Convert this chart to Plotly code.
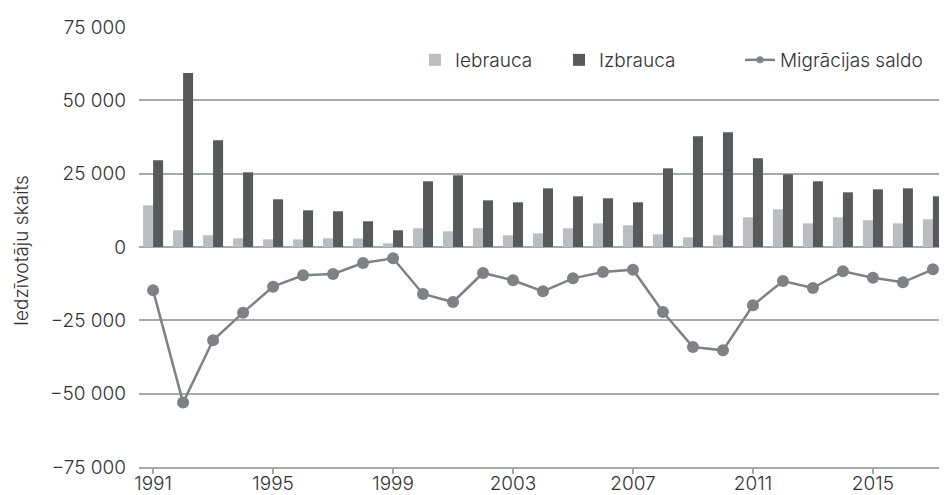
import plotly.graph_objects as go

years = list(range(1991, 2018))
iebrauca = [14200, 5700, 4000, 2960, 2600, 2600, 2960, 2900, 1250, 6380, 5350, 6400,
            3980, 4660, 6370, 8070, 7390, 4320, 3300, 3980, 10120, 12840, 8070, 10120,
            9100, 8070, 9440]
izbrauca = [29560, 59300, 36380, 25470, 16260, 12500, 12170, 8760, 5700, 22400, 24450, 15900,
            15240, 20000, 17280, 16600, 15240, 26820, 37730, 39090, 30230, 24770, 22390, 18640,
            19660, 20000, 17280]
saldo = [-14770, -53050, -31800, -22380, -13520, -9660, -9200, -5450, -3860, -16020, -18750,
         -8860, -11360, -15110, -10680, -8520, -7730, -22150, -34090, -35220, -19880, -11590,
         -13980, -8290, -10450, -12040, -7610]

y_ticks = [-75000, -50000, -25000, 0, 25000, 50000, 75000]
y_ticktext = ["\u221275 000", "\u221250 000", "\u221225 000", "0", "25 000", "50 000", "75 000"]
x_ticks = [1991, 1995, 1999, 2003, 2007, 2011, 2015]

FONT = "Inter"
TXT = "#333333"
FS = 19
# the page body adds an 8px offset, so the figure is sized/margined accordingly
W, H = 939, 487
ML, MR, MT, MB = 131, 0, 19, 28
PW = W - ML - MR
PH = H - MT - MB

fig = go.Figure()
fig.add_trace(go.Bar(x=years, y=iebrauca, name="Iebrauca", marker_color="#BCBDC0",
                     marker_line_width=0, legendwidth=99))
fig.add_trace(go.Bar(x=years, y=izbrauca, name="Izbrauca", marker_color="#58595B",
                     marker_line_width=0, legendwidth=136))
fig.add_trace(go.Scatter(x=years, y=saldo, name="Migrācijas saldo", mode="lines+markers",
                         line=dict(color="#808184", width=2.5),
                         marker=dict(color="#808184", size=12), showlegend=False))
# legend-only entry with a smaller marker, as in the reference legend
fig.add_trace(go.Scatter(x=[None], y=[None], name="Migrācijas saldo", mode="lines+markers",
                         line=dict(color="#808184", width=2.5),
                         marker=dict(color="#808184", size=7), showlegend=True))

fig.update_layout(
    width=W, height=H,
    margin=dict(l=ML, r=MR, t=MT, b=MB, autoexpand=False),
    paper_bgcolor="white", plot_bgcolor="white",
    font=dict(family=FONT, size=FS, color=TXT, weight=300),
    barmode="group", bargap=0.333, bargroupgap=0,
    showlegend=True,
    legend=dict(orientation="h", x=(407 - ML) / PW, xanchor="left",
                y=(H - MB - 52) / PH, yanchor="middle", bgcolor="rgba(0,0,0,0)",
                font=dict(family=FONT, size=FS, color=TXT, weight=300),
                traceorder="normal"),
    xaxis=dict(range=[1990.53, 2017.47], tickvals=x_ticks, ticks="outside", ticklen=5,
               tickcolor="#A7A9AC", tickwidth=1.5, showgrid=False, zeroline=False,
               showline=True, linecolor="#A7A9AC", linewidth=1.5, automargin=False,
               ticklabelstandoff=-7,
               tickfont=dict(family=FONT, size=FS, color=TXT, weight=300)),
    yaxis=dict(range=[-75000, 75000], tickvals=y_ticks, ticktext=y_ticktext,
               showgrid=True, gridcolor="#A7A9AC", gridwidth=1.5,
               zeroline=True, zerolinecolor="#A7A9AC", zerolinewidth=1.5,
               showline=False, ticks="", ticklabelstandoff=12, automargin=False,
               tickfont=dict(family=FONT, size=FS, color=TXT, weight=300)),
    annotations=[dict(text="Iedzīvotāju skaits", textangle=-90, xref="paper", yref="paper",
                      x=(14 - ML) / PW, y=(H - MB - 243) / PH, xanchor="center",
                      yanchor="middle", showarrow=False,
                      font=dict(family=FONT, size=FS, color=TXT, weight=300))],
)

fig.write_html("out.html")
